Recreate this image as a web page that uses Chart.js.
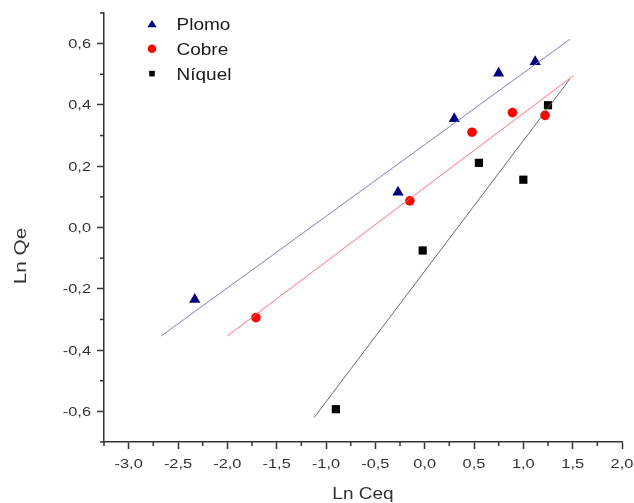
<!DOCTYPE html>
<html lang="es">
<head>
<meta charset="UTF-8">
<title>Ln Qe vs Ln Ceq</title>
<script src="https://cdn.jsdelivr.net/npm/chart.js@4.4.1/dist/chart.umd.min.js"></script>
<style>
    body { margin: 0; background: #fff; }
    canvas { display: block; }
</style>
</head>
<body>
<canvas id="isotermaChart" width="634" height="503"></canvas>
<script>
// Datos experimentales (Ln Ceq, Ln Qe)
const plomoX = [-2.33, -0.27, 0.30, 0.75, 1.12];
const plomoY = [-0.235, 0.115, 0.355, 0.503, 0.541];
const cobreX = [-1.71, -0.15, 0.48, 0.89, 1.22];
const cobreY = [-0.294, 0.087, 0.311, 0.375, 0.366];
const niquelX = [-0.90, -0.02, 0.55, 1.00, 1.25];
const niquelY = [-0.593, -0.075, 0.211, 0.156, 0.399];

// Rectas de ajuste (extremos de cada recta)
const plomoFitX = [-2.67, 1.47];
const plomoFitY = [-0.354, 0.614];
const cobreFitX = [-2.00, 1.51];
const cobreFitY = [-0.354, 0.496];
const niquelFitX = [-1.12, 1.47];
const niquelFitY = [-0.620, 0.484];

// Ejes
const xMin = -3.25, xMax = 2.0, xStep = 0.25;
const yMin = -0.7, yMax = 0.7, yStep = 0.1;

const FONT = '"Liberation Sans", Arial, sans-serif';
const AXIS_COLOR = '#333';

function toPoints(xs, ys) {
    return xs.map((x, i) => ({ x: x, y: ys[i] }));
}

function formatTick(v) {
    return v.toFixed(1).replace('.', ',');
}

function isMajorX(v) {
    return Math.round(v * 4) % 2 === 0;
}

function isMajorY(v) {
    return Math.round(v * 10) % 2 === 0;
}

// Texto algo ensanchado horizontalmente
function drawText(ctx, text, x, y, size, sx, align, color, angle) {
    ctx.save();
    ctx.translate(x, y);
    if (angle) ctx.rotate(angle);
    ctx.scale(sx, 1);
    ctx.font = size + 'px ' + FONT;
    ctx.fillStyle = color;
    ctx.textAlign = align;
    ctx.textBaseline = 'alphabetic';
    ctx.fillText(text, 0, 0);
    ctx.restore();
}

function fitLine(xs, ys, color) {
    return {
        data: toPoints(xs, ys),
        showLine: true,
        borderColor: color,
        borderWidth: 1,
        pointRadius: 0,
        fill: false
    };
}

function markers(label, xs, ys, color, style, radius) {
    return {
        label: label,
        data: toPoints(xs, ys),
        showLine: false,
        pointStyle: style,
        pointRadius: radius,
        pointHoverRadius: radius,
        backgroundColor: color,
        borderColor: color,
        borderWidth: 0,
        leyenda: true
    };
}

// Marcas cortas de subdivisión y etiquetas de los ejes
const axisLabels = {
    id: 'axisLabels',
    afterDraw(chart) {
        const ctx = chart.ctx;
        const { x, y } = chart.scales;
        ctx.save();
        ctx.strokeStyle = AXIS_COLOR;
        ctx.lineWidth = 1.5;
        x.ticks.forEach(t => {
            const px = x.getPixelForValue(t.value);
            if (isMajorX(t.value)) {
                drawText(ctx, formatTick(t.value), px, x.top + 26, 12.6, 1.3, 'center', AXIS_COLOR);
                return;
            }
            ctx.beginPath();
            ctx.moveTo(px, x.top);
            ctx.lineTo(px, x.top + 4);
            ctx.stroke();
        });
        y.ticks.forEach(t => {
            const py = y.getPixelForValue(t.value);
            if (isMajorY(t.value)) {
                drawText(ctx, formatTick(t.value), y.right - 13, py + 4.5, 12.6, 1.3, 'right', AXIS_COLOR);
                return;
            }
            ctx.beginPath();
            ctx.moveTo(y.right, py);
            ctx.lineTo(y.right - 4, py);
            ctx.stroke();
        });
        ctx.restore();

        const area = chart.chartArea;
        drawText(ctx, 'Ln Ceq', (area.left + area.right) / 2, 498.5, 17.3, 1.1, 'center', AXIS_COLOR);
        drawText(ctx, 'Ln Qe', 26, 256, 17.3, 1.2, 'center', AXIS_COLOR, -Math.PI / 2);
    }
};

function drawSymbol(ctx, style, cx, cy) {
    ctx.beginPath();
    if (style === 'triangle') {
        ctx.moveTo(cx, cy - 4);
        ctx.lineTo(cx + 4.6, cy + 3.2);
        ctx.lineTo(cx - 4.6, cy + 3.2);
        ctx.closePath();
    } else if (style === 'circle') {
        ctx.arc(cx, cy, 4.3, 0, Math.PI * 2);
    } else {
        ctx.rect(cx - 2.8, cy - 2.8, 5.6, 5.6);
    }
    ctx.fill();
}

// Leyenda dentro del área del gráfico
const leyenda = {
    id: 'leyenda',
    afterDraw(chart) {
        const ctx = chart.ctx;
        const area = chart.chartArea;
        const items = chart.data.datasets.filter(d => d.leyenda);
        items.forEach((ds, i) => {
            const cy = area.top + 11 + i * 24.8;
            ctx.fillStyle = ds.backgroundColor;
            drawSymbol(ctx, ds.pointStyle, area.left + 48, cy);
            drawText(ctx, ds.label, area.left + 72.5, cy + 6.3, 17.3, 1.1, 'left', '#1a1a1a');
        });
    }
};

document.addEventListener('DOMContentLoaded', () => {
    const ctx = document.getElementById('isotermaChart').getContext('2d');

    new Chart(ctx, {
        type: 'scatter',
        data: {
            datasets: [
                fitLine(plomoFitX, plomoFitY, 'rgba(110, 110, 200, 0.9)'),
                fitLine(cobreFitX, cobreFitY, 'rgba(255, 100, 100, 0.9)'),
                fitLine(niquelFitX, niquelFitY, 'rgba(90, 90, 90, 0.9)'),
                markers('Plomo', plomoX, plomoY, '#000080', 'triangle', 6.5),
                markers('Cobre', cobreX, cobreY, '#ff0000', 'circle', 4.8),
                markers('Níquel', niquelX, niquelY, '#000000', 'rect', 5.8)
            ]
        },
        options: {
            responsive: false,
            animation: false,
            layout: { padding: { top: 13, right: 12, left: 0, bottom: 0 } },
            plugins: {
                legend: { display: false },
                tooltip: { enabled: false }
            },
            scales: {
                x: {
                    type: 'linear',
                    min: xMin,
                    max: xMax,
                    afterFit: s => { s.height = 61; s.paddingLeft = 0; s.paddingRight = 0; },
                    border: { display: true, color: AXIS_COLOR, width: 1.5 },
                    grid: {
                        drawOnChartArea: false,
                        tickLength: 7,
                        tickWidth: 1.5,
                        tickColor: c => (c.tick && isMajorX(c.tick.value)) ? AXIS_COLOR : 'transparent'
                    },
                    ticks: { stepSize: xStep, autoSkip: false, display: false }
                },
                y: {
                    type: 'linear',
                    min: yMin,
                    max: yMax,
                    afterFit: s => { s.width = 104; },
                    border: { display: true, color: AXIS_COLOR, width: 1.5 },
                    grid: {
                        drawOnChartArea: false,
                        tickLength: 7,
                        tickWidth: 1.5,
                        tickColor: c => (c.tick && isMajorY(c.tick.value)) ? AXIS_COLOR : 'transparent'
                    },
                    ticks: { stepSize: yStep, autoSkip: false, display: false }
                }
            }
        },
        plugins: [axisLabels, leyenda]
    });
});
</script>
</body>
</html>
